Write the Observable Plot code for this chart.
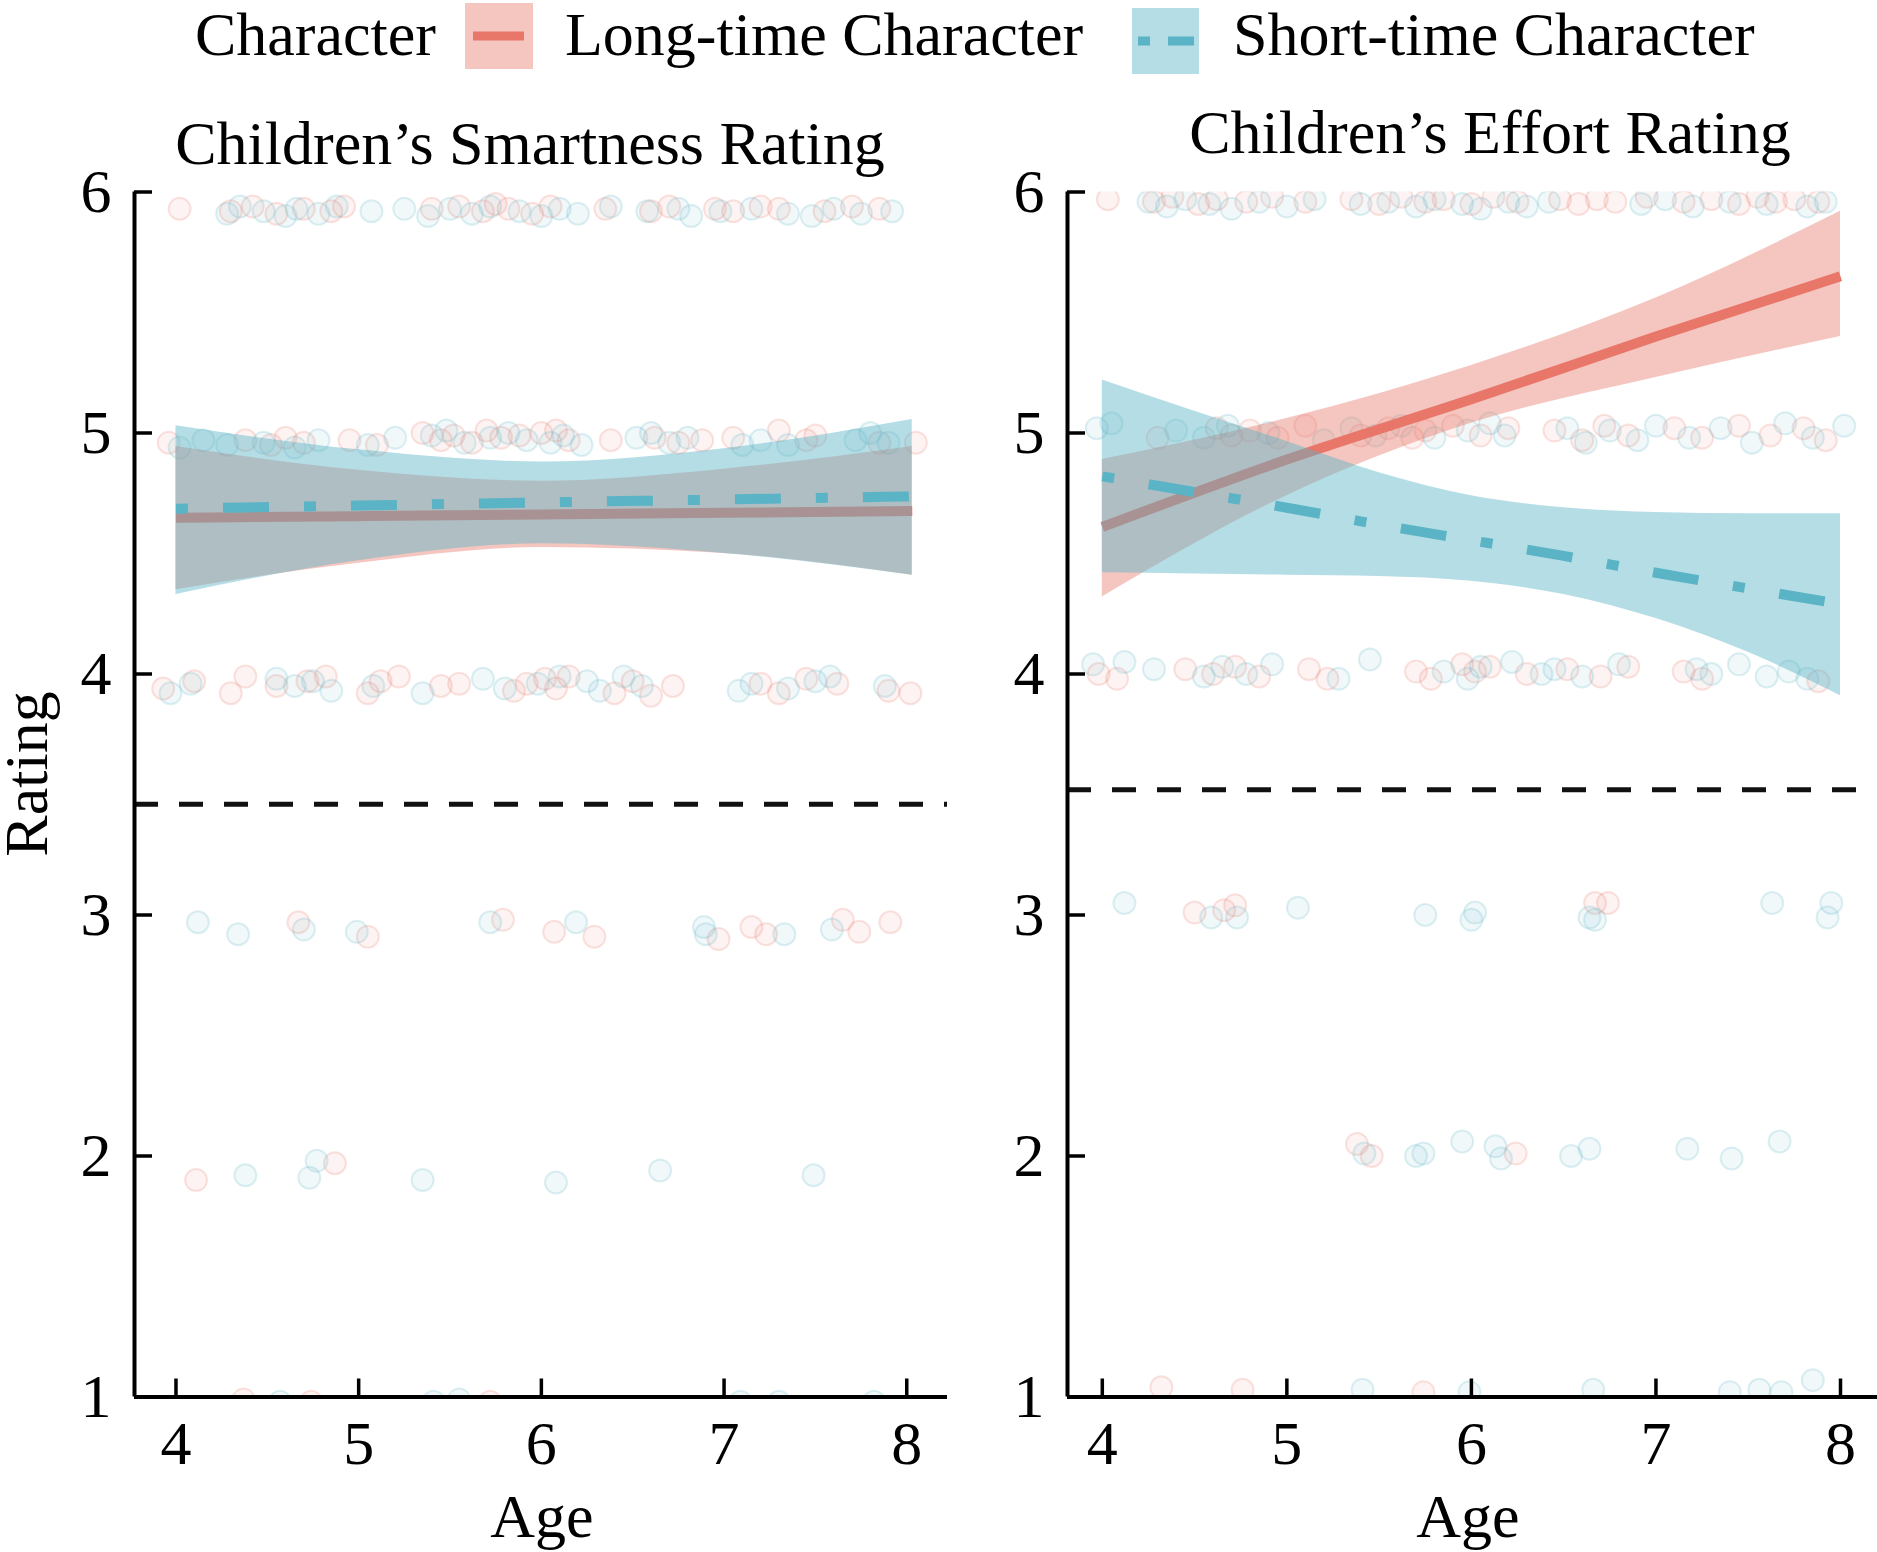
<!DOCTYPE html>
<html><head><meta charset="utf-8">
<script src="https://cdn.jsdelivr.net/npm/d3@7"></script>
<script src="https://cdn.jsdelivr.net/npm/@observablehq/plot@0.6"></script>
<style>
html,body{margin:0;padding:0;background:#fff;}
#wrap{position:relative;width:1877px;height:1552px;overflow:hidden;background:#fff;}
</style></head>
<body><div id="wrap"></div>
<script>
// ---------- data ----------
const groups = ["Long-time Character", "Short-time Character"];
const panelTitles = ["Children\u2019s Smartness Rating", "Children\u2019s Effort Rating"];
const xTicks = [4, 5, 6, 7, 8];
const yTicks = [1, 2, 3, 4, 5, 6];
const chanceSmart = 3.46;
const chanceEffort = 3.52;

// Smartness, long-time character points [age, rating]
const smartLongPts = [
  [4.02,5.93],[4.30,5.92],[4.42,5.94],[4.55,5.91],[4.70,5.93],[4.85,5.92],[4.92,5.94],[5.40,5.93],[5.55,5.94],[5.68,5.92],[5.75,5.95],[5.82,5.93],[5.95,5.91],[6.05,5.94],[6.35,5.93],[6.60,5.92],[6.70,5.94],[6.95,5.93],[7.05,5.92],[7.20,5.94],[7.30,5.93],[7.55,5.92],[7.70,5.94],[7.85,5.93],
  [3.96,4.96],[4.38,4.97],[4.52,4.95],[4.60,4.98],[4.70,4.96],[4.95,4.97],[5.10,4.95],[5.35,5.00],[5.45,4.97],[5.52,4.99],[5.62,4.96],[5.70,5.01],[5.78,4.98],[5.88,4.99],[6.00,5.00],[6.08,5.01],[6.15,4.97],[6.38,4.97],[6.62,4.98],[6.75,4.96],[6.88,4.97],[7.05,4.98],[7.30,5.01],[7.45,4.97],[7.50,4.99],[7.85,4.96],[8.05,4.96],
  [3.93,3.94],[4.10,3.97],[4.30,3.92],[4.38,3.99],[4.55,3.95],[4.72,3.97],[4.82,3.99],[5.05,3.92],[5.12,3.97],[5.22,3.99],[5.45,3.95],[5.55,3.96],[5.85,3.93],[5.92,3.96],[6.02,3.98],[6.08,3.94],[6.15,3.99],[6.40,3.92],[6.50,3.97],[6.60,3.91],[6.72,3.95],[7.20,3.96],[7.30,3.92],[7.45,3.98],[7.62,3.96],[7.90,3.93],[8.02,3.92],
  [4.67,2.97],[5.05,2.91],[5.79,2.98],[6.07,2.93],[6.29,2.91],[6.97,2.90],[7.15,2.95],[7.23,2.92],[7.65,2.98],[7.74,2.93],[7.91,2.97],
  [4.11,1.90],[4.87,1.97],
  [4.37,0.99],[4.74,0.98],[5.72,0.98]
];
// Smartness, short-time character points
const smartShortPts = [
  [4.28,5.91],[4.35,5.94],[4.48,5.92],[4.60,5.90],[4.66,5.93],[4.78,5.91],[4.88,5.94],[5.07,5.92],[5.25,5.93],[5.38,5.90],[5.50,5.93],[5.62,5.91],[5.72,5.94],[5.88,5.92],[6.00,5.90],[6.10,5.93],[6.20,5.91],[6.38,5.94],[6.58,5.92],[6.75,5.93],[6.82,5.90],[6.98,5.92],[7.15,5.93],[7.35,5.91],[7.48,5.90],[7.60,5.93],[7.75,5.91],[7.92,5.92],
  [4.02,4.94],[4.15,4.97],[4.28,4.95],[4.48,4.96],[4.65,4.94],[4.78,4.97],[5.05,4.95],[5.20,4.98],[5.40,4.99],[5.48,5.01],[5.58,4.96],[5.72,4.98],[5.82,5.00],[5.92,4.97],[6.05,4.96],[6.12,4.99],[6.22,4.95],[6.52,4.98],[6.60,5.00],[6.70,4.96],[6.80,4.98],[7.10,4.95],[7.20,4.97],[7.35,4.95],[7.72,4.97],[7.80,5.00],[7.90,4.96],
  [3.97,3.92],[4.08,3.96],[4.55,3.98],[4.65,3.95],[4.75,3.97],[4.85,3.93],[5.08,3.95],[5.35,3.92],[5.68,3.98],[5.80,3.94],[5.98,3.96],[6.10,3.99],[6.25,3.97],[6.32,3.93],[6.45,3.99],[6.55,3.95],[7.08,3.93],[7.15,3.96],[7.35,3.94],[7.50,3.97],[7.58,3.99],[7.88,3.95],
  [4.12,2.97],[4.34,2.92],[4.70,2.94],[4.99,2.93],[5.72,2.97],[6.19,2.97],[6.89,2.95],[6.90,2.92],[7.33,2.92],[7.59,2.94],
  [4.38,1.92],[4.73,1.91],[4.77,1.98],[5.35,1.90],[6.08,1.89],[6.65,1.94],[7.49,1.92],
  [4.57,0.98],[5.41,0.98],[5.55,0.99],[7.09,0.98],[7.30,0.98],[7.82,0.98]
];
// Effort, long-time character points
const effortLongPts = [
  [4.03,5.97],[4.28,5.96],[4.38,5.98],[4.52,5.95],[4.62,5.97],[4.78,5.96],[4.92,5.98],[5.10,5.96],[5.35,5.97],[5.50,5.95],[5.62,5.98],[5.75,5.96],[5.85,5.97],[6.00,5.95],[6.12,5.98],[6.25,5.96],[6.48,5.97],[6.58,5.95],[6.68,5.97],[6.78,5.96],[6.95,5.98],[7.15,5.96],[7.30,5.97],[7.45,5.95],[7.55,5.98],[7.65,5.96],[7.75,5.97],[7.88,5.96],
  [4.30,4.98],[4.62,5.02],[4.70,4.99],[4.80,5.01],[4.95,4.98],[5.10,5.03],[5.40,4.99],[5.55,5.02],[5.68,4.98],[5.75,5.01],[5.90,5.03],[6.05,4.99],[6.20,5.02],[6.45,5.01],[6.60,4.97],[6.72,5.03],[6.85,4.99],[7.10,5.02],[7.25,4.98],[7.45,5.03],[7.62,4.99],[7.80,5.02],[7.92,4.97],
  [3.98,4.00],[4.08,3.98],[4.45,4.02],[4.60,4.00],[4.72,4.03],[4.85,3.99],[5.12,4.02],[5.22,3.98],[5.70,4.01],[5.78,3.98],[5.95,4.04],[6.02,4.01],[6.10,4.03],[6.30,4.00],[6.52,4.02],[6.70,3.99],[6.85,4.03],[7.15,4.01],[7.25,3.98],[7.88,3.97],
  [4.50,3.01],[4.66,3.02],[4.72,3.04],[6.67,3.05],[6.74,3.05],
  [5.38,2.05],[5.46,2.00],[6.24,2.01],
  [4.32,1.04],[4.76,1.03],[5.74,1.02]
];
// Effort, short-time character points
const effortShortPts = [
  [4.25,5.96],[4.35,5.94],[4.45,5.97],[4.58,5.95],[4.70,5.93],[4.85,5.96],[5.00,5.94],[5.15,5.97],[5.40,5.95],[5.55,5.96],[5.70,5.94],[5.80,5.97],[5.95,5.95],[6.05,5.93],[6.20,5.96],[6.30,5.94],[6.42,5.96],[6.92,5.95],[7.05,5.97],[7.20,5.94],[7.40,5.96],[7.60,5.95],[7.82,5.94],[7.92,5.96],
  [3.97,5.02],[4.05,5.04],[4.40,5.01],[4.55,4.98],[4.68,5.03],[4.90,5.00],[5.20,4.97],[5.35,5.02],[5.48,4.99],[5.62,5.03],[5.80,4.98],[5.98,5.01],[6.10,5.04],[6.18,4.99],[6.52,5.02],[6.62,4.96],[6.75,5.01],[6.90,4.97],[7.00,5.03],[7.18,4.98],[7.35,5.02],[7.52,4.96],[7.70,5.04],[7.85,4.98],[8.02,5.03],
  [3.95,4.04],[4.12,4.05],[4.28,4.02],[4.55,3.99],[4.65,4.03],[4.78,4.00],[4.92,4.04],[5.28,3.98],[5.45,4.06],[5.85,4.01],[5.98,3.98],[6.05,4.03],[6.22,4.05],[6.38,4.00],[6.45,4.02],[6.60,3.99],[6.80,4.04],[7.22,4.02],[7.30,4.00],[7.45,4.04],[7.60,3.99],[7.72,4.01],[7.82,3.98],
  [4.12,3.05],[4.59,2.99],[4.73,2.99],[5.06,3.03],[5.75,3.00],[6.00,2.98],[6.02,3.01],[6.64,2.99],[6.67,2.98],[7.63,3.05],[7.93,2.99],[7.95,3.05],
  [5.42,2.01],[5.70,2.00],[5.74,2.01],[5.95,2.06],[6.13,2.04],[6.16,1.99],[6.54,2.00],[6.64,2.03],[7.17,2.03],[7.41,1.99],[7.67,2.06],
  [5.41,1.03],[5.99,1.02],[6.66,1.03],[7.40,1.02],[7.56,1.03],[7.68,1.02],[7.85,1.07]
];

// model fits with confidence bands
const smartFitAge    = [4.00, 5, 6, 7, 8.03];
const smartLongFit   = [4.648, 4.655, 4.662, 4.669, 4.676];
const smartLongLo    = [4.35, 4.46, 4.525, 4.50, 4.41];
const smartLongHi    = [4.944, 4.845, 4.80, 4.85, 4.944];
const smartShortFit  = [4.686, 4.699, 4.712, 4.724, 4.737];
const smartShortLo   = [4.33, 4.47, 4.54, 4.50, 4.41];
const smartShortHi   = [5.03, 4.93, 4.88, 4.935, 5.056];

const effortLongAge  = [4.00, 5, 6, 7, 8.00];
const effortLongFit  = [4.61, 4.89, 5.14, 5.40, 5.65];
const effortLongLo   = [4.32, 4.74, 5.04, 5.23, 5.40];
const effortLongHi   = [4.89, 5.06, 5.28, 5.56, 5.92];
const effortShortAge = [4.00, 4.5, 5, 5.5, 6, 6.5, 7, 7.5, 8.00];
const effortShortFit = [4.82, 4.755, 4.69, 4.62, 4.555, 4.49, 4.42, 4.355, 4.29];
const effortShortLo  = [4.42, 4.415, 4.41, 4.405, 4.385, 4.33, 4.23, 4.09, 3.91];
const effortShortHi  = [5.22, 5.09, 4.965, 4.835, 4.74, 4.69, 4.67, 4.665, 4.665];

// ---------- styling ----------
const red = "#E8776A", blue = "#5BB4C5";
const FONT = "'Liberation Serif', 'Times New Roman', serif";
const wrap = document.getElementById("wrap");
const fmt = d3.format("d");

function rows(age, fit, lo, hi) {
  return age.map((a, i) => ({age: a, fit: fit[i], lo: lo[i], hi: hi[i]}));
}

function panel({left, width, marginLeft, xDomain, longPts, shortPts, longFit, shortFit, chance, refX2}) {
  const p = Plot.plot({
    width, height: 1552,
    marginTop: 191.5, marginBottom: 155.5, marginLeft, marginRight: 0,
    x: {domain: xDomain},
    y: {domain: [1, 6]},
    style: {fontFamily: FONT, background: "transparent", position: "absolute", left: left + "px", top: "0px", overflow: "visible", color: "#000"},
    marks: [
      Plot.dot(longPts, {x: d => d[0], y: d => d[1], r: 11, fill: red, fillOpacity: 0.09, stroke: red, strokeOpacity: 0.2, strokeWidth: 2, clip: true}),
      Plot.dot(shortPts, {x: d => d[0], y: d => d[1], r: 11, fill: blue, fillOpacity: 0.09, stroke: blue, strokeOpacity: 0.2, strokeWidth: 2, clip: true}),
      Plot.areaY(longFit, {x: "age", y1: "lo", y2: "hi", fill: red, fillOpacity: 0.42, curve: "monotone-x"}),
      Plot.line(longFit, {x: "age", y: "fit", stroke: red, strokeWidth: 10, strokeLinecap: "butt", curve: "monotone-x"}),
      Plot.areaY(shortFit, {x: "age", y1: "lo", y2: "hi", fill: blue, fillOpacity: 0.45, curve: "monotone-x"}),
      Plot.line(shortFit, {x: "age", y: "fit", stroke: blue, strokeWidth: 10, strokeLinecap: "butt", strokeDasharray: "12,35,46,35", curve: "monotone-x"}),
      Plot.ruleY([chance], {x1: xDomain[0], x2: refX2, stroke: "#111", strokeWidth: 5, strokeDasharray: "24,21"}),
      Plot.ruleX([xDomain[0]], {stroke: "#000", strokeWidth: 4}),
      Plot.ruleY([1], {stroke: "#000", strokeWidth: 4}),
      Plot.axisX(xTicks, {tickSize: -18, tickPadding: 40.5, fontSize: 62, strokeWidth: 3.5, tickFormat: fmt, label: null}),
      Plot.axisY(yTicks, {tickSize: -18, tickPadding: 41, fontSize: 62, strokeWidth: 3.5, tickFormat: fmt, label: null})
    ]
  });
  wrap.appendChild(p);
}

panel({
  left: 0, width: 947, marginLeft: 134, xDomain: [3.773, 8.223],
  longPts: smartLongPts, shortPts: smartShortPts,
  longFit: rows(smartFitAge, smartLongFit, smartLongLo, smartLongHi),
  shortFit: rows(smartFitAge, smartShortFit, smartShortLo, smartShortHi),
  chance: chanceSmart, refX2: 8.223
});
panel({
  left: 960, width: 917, marginLeft: 107, xDomain: [3.8114, 8.2005],
  longPts: effortLongPts, shortPts: effortShortPts,
  longFit: rows(effortLongAge, effortLongFit, effortLongLo, effortLongHi),
  shortFit: rows(effortShortAge, effortShortFit, effortShortLo, effortShortHi),
  chance: chanceEffort, refX2: 8.092
});

// ---------- titles, axis labels, legend ----------
const ov = d3.select(wrap).append("svg")
  .attr("width", 1877).attr("height", 1552)
  .style("position", "absolute").style("left", "0px").style("top", "0px")
  .style("font-family", FONT).style("font-size", "62px");

ov.append("text").attr("x", 530).attr("y", 164).attr("text-anchor", "middle").text(panelTitles[0]);
ov.append("text").attr("x", 1490).attr("y", 153).attr("text-anchor", "middle").text(panelTitles[1]);
ov.append("text").attr("x", 542).attr("y", 1537).attr("text-anchor", "middle").text("Age");
ov.append("text").attr("x", 1468).attr("y", 1537).attr("text-anchor", "middle").text("Age");
ov.append("text").attr("transform", "translate(47,774) rotate(-90)").attr("text-anchor", "middle").text("Rating");

// legend
ov.append("text").attr("x", 195).attr("y", 55).text("Character");
ov.append("rect").attr("x", 465).attr("y", 3).attr("width", 68).attr("height", 66).attr("fill", red).attr("fill-opacity", 0.42);
ov.append("line").attr("x1", 473).attr("x2", 524).attr("y1", 36).attr("y2", 36).attr("stroke", red).attr("stroke-width", 9);
ov.append("text").attr("x", 565).attr("y", 55).text(groups[0]);
ov.append("rect").attr("x", 1132).attr("y", 8).attr("width", 67).attr("height", 66).attr("fill", blue).attr("fill-opacity", 0.45);
ov.append("line").attr("x1", 1138).attr("x2", 1194).attr("y1", 41).attr("y2", 41).attr("stroke", blue).attr("stroke-width", 9).attr("stroke-dasharray", "12,18,26,100");
ov.append("text").attr("x", 1233).attr("y", 55).text(groups[1]);
</script>
</body></html>
